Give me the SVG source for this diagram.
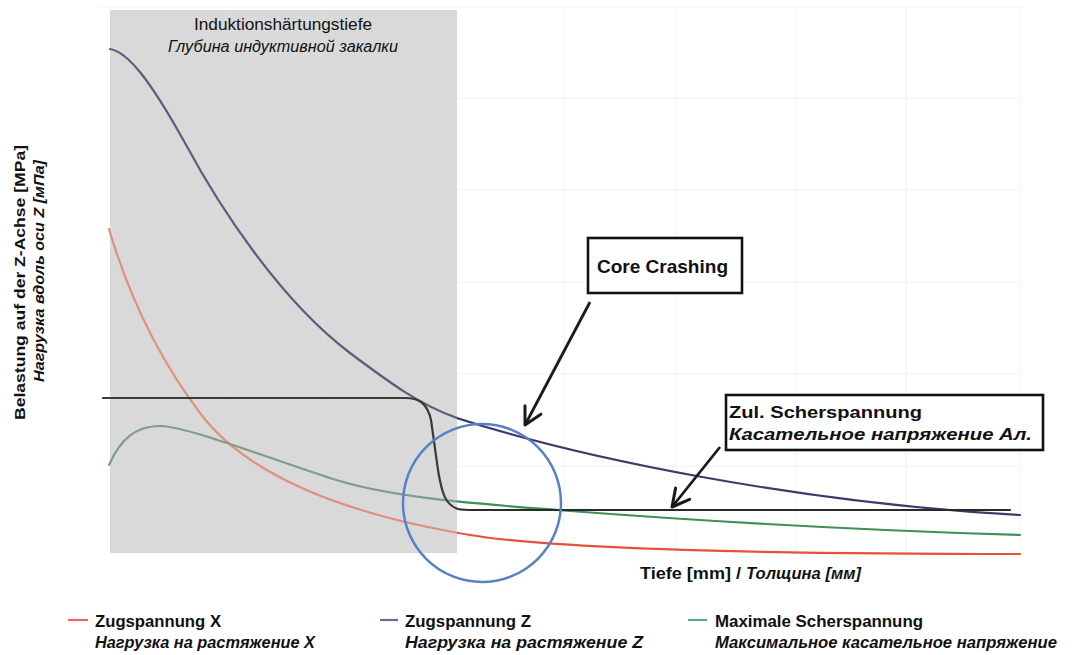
<svg xmlns="http://www.w3.org/2000/svg" xmlns:xlink="http://www.w3.org/1999/xlink" width="1076" height="655" viewBox="0 0 1076 655">
<style>
  .t { font-family: "Liberation Sans", Arial, sans-serif; fill: #111; }
  .b { font-weight: bold; }
  .i { font-style: italic; }
  .grid { stroke: #f3f3f3; stroke-width: 1.2; fill: none; }
  .crv { fill: none; stroke-width: 2.2; stroke-linejoin: round; stroke-linecap: round; }
  .box { fill: #fff; stroke: #111; stroke-width: 2.6; }
  .arr { fill: none; stroke: #1a1a1a; stroke-width: 2.8; marker-end: url(#open); }
  .leg { stroke-width: 2.2; }
</style>
<defs>
  <marker id="open" markerUnits="userSpaceOnUse" markerWidth="20" markerHeight="20" refX="0" refY="0" orient="auto" overflow="visible">
    <path d="M-17,-9 L0,0 L-17,9" fill="none" stroke="#1a1a1a" stroke-width="3" stroke-linejoin="round" stroke-linecap="round"/>
  </marker>
  <clipPath id="cin"><rect x="0" y="0" width="457" height="655"/></clipPath>
  <clipPath id="cout"><rect x="457" y="0" width="619" height="655"/></clipPath>
  <path id="pz" d="M110,49 C128,52 150,80 185,143 C220,208 280,300 350,353 C390,383 420,405 457,418 C580,458 800,503 1020,515"/>
  <path id="px" d="M109,229 C130,300 160,360 200,413 C240,466 320,510 470,535 C560,550 780,554 1020,554"/>
  <path id="ps" d="M109,465 C120,440 135,426 160,426 C185,426 260,455 330,478 C390,498 480,504 557,510 C700,521 850,530 1020,535"/>
  <path id="pb" d="M103,398 L405,398 C418,398 427,402 431,420 L438,470 C442,495 446,505 458,509 C463,510 468,510 475,510 L1010,510"/>
</defs>
<rect x="0" y="0" width="1076" height="655" fill="#fff"/>
<g id="plot-area">
  <path class="grid" d="M100,7 H1020 V556 M457,98 H1020 M457,190 H1020 M457,282 H1020 M457,374 H1020 M457,466 H1020 M564,7 V556 M676,7 V556 M796,7 V556 M906,7 V556"/>
  <rect id="hardening-zone" x="110" y="10" width="347" height="543" fill="#d9d9d9"/>
  <path d="M227,10 V553 M323,10 V553" stroke="#dcdcdc" stroke-width="2" fill="none"/>
</g>
<g id="curves">
  <g clip-path="url(#cin)">
    <use xlink:href="#px" href="#px" class="crv" stroke="#e0907c"/>
    <use xlink:href="#ps" href="#ps" class="crv" stroke="#7e9c8a"/>
    <use xlink:href="#pz" href="#pz" class="crv" stroke="#5c5c7e"/>
    <use xlink:href="#pb" href="#pb" class="crv" stroke="#3a3a3a"/>
  </g>
  <g clip-path="url(#cout)">
    <use xlink:href="#px" href="#px" class="crv" stroke="#e8503c"/>
    <use xlink:href="#ps" href="#ps" class="crv" stroke="#3e9058"/>
    <use xlink:href="#pz" href="#pz" class="crv" stroke="#3c3c6c"/>
    <use xlink:href="#pb" href="#pb" class="crv" stroke="#2a2a2a"/>
  </g>
</g>
<g id="header">
  <text class="t" x="194" y="30" font-size="16" textLength="178" lengthAdjust="spacingAndGlyphs">Induktionshärtungstiefe</text>
  <text class="t i" x="168" y="52" font-size="16" textLength="230" lengthAdjust="spacingAndGlyphs">Глубина индуктивной закалки</text>
</g>
<g id="y-axis-title">
  <text class="t b" transform="translate(25,420) rotate(-90)" font-size="15" textLength="275" lengthAdjust="spacingAndGlyphs">Belastung auf der Z-Achse [MPa]</text>
  <text class="t b i" transform="translate(44,382) rotate(-90)" font-size="15" textLength="222" lengthAdjust="spacingAndGlyphs">Нагрузка вдоль оси Z [мПа]</text>
</g>
<g id="x-axis-title">
  <text class="t b" x="640" y="579" font-size="16" textLength="101" lengthAdjust="spacingAndGlyphs">Tiefe [mm] /</text>
  <text class="t b i" x="746" y="579" font-size="16" textLength="115" lengthAdjust="spacingAndGlyphs">Толщина [мм]</text>
</g>
<g id="highlight-circle">
  <circle cx="482" cy="503" r="79" fill="none" stroke="#5a80c4" stroke-width="2.5"/>
</g>
<g id="node-core-crashing">
  <rect class="box" x="588" y="238" width="154" height="55"/>
  <text class="t b" x="597" y="273" font-size="19" textLength="131" lengthAdjust="spacingAndGlyphs">Core Crashing</text>
</g>
<g id="node-zul-scherspannung">
  <rect class="box" x="726" y="395" width="317" height="55"/>
  <text class="t b" x="729" y="418" font-size="17" textLength="193" lengthAdjust="spacingAndGlyphs">Zul. Scherspannung</text>
  <text class="t b i" x="729" y="440" font-size="17" textLength="303" lengthAdjust="spacingAndGlyphs">Касательное напряжение Ал.</text>
</g>
<g id="connectors">
  <line class="arr" x1="590" y1="302" x2="525" y2="425"/>
  <line class="arr" x1="720" y1="447" x2="672" y2="507"/>
</g>
<g id="legend-x">
  <line class="leg" x1="68" y1="620" x2="88" y2="620" stroke="#ee6660"/>
  <text class="t b" x="95" y="627" font-size="16" textLength="126" lengthAdjust="spacingAndGlyphs">Zugspannung X</text>
  <text class="t b i" x="95" y="648" font-size="16" textLength="220" lengthAdjust="spacingAndGlyphs">Нагрузка на растяжение X</text>
</g>
<g id="legend-z">
  <line class="leg" x1="380" y1="620" x2="398" y2="620" stroke="#6a6a9a"/>
  <text class="t b" x="405" y="627" font-size="16" textLength="126" lengthAdjust="spacingAndGlyphs">Zugspannung Z</text>
  <text class="t b i" x="405" y="648" font-size="16" textLength="238" lengthAdjust="spacingAndGlyphs">Нагрузка на растяжение Z</text>
</g>
<g id="legend-shear">
  <line class="leg" x1="688" y1="620" x2="707" y2="620" stroke="#56b084"/>
  <text class="t b" x="715" y="627" font-size="16" textLength="208" lengthAdjust="spacingAndGlyphs">Maximale Scherspannung</text>
  <text class="t b i" x="715" y="648" font-size="16" textLength="342" lengthAdjust="spacingAndGlyphs">Максимальное касательное напряжение</text>
</g>
</svg>
